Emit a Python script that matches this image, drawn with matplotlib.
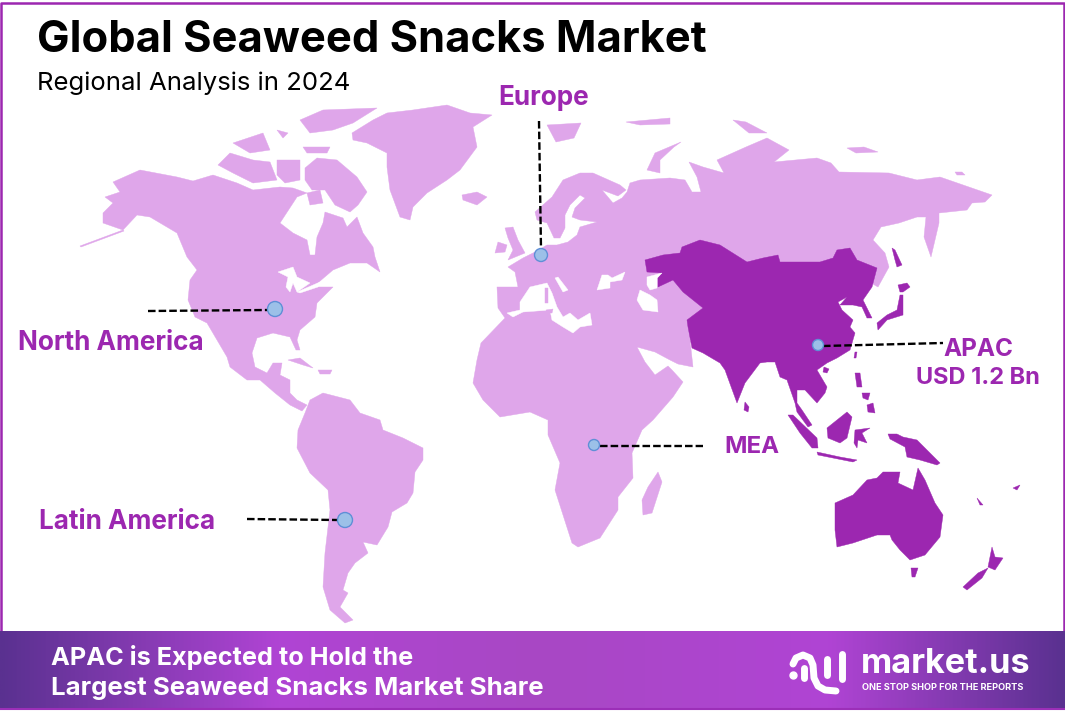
import numpy as np
import matplotlib.pyplot as plt
from matplotlib.colors import LinearSegmentedColormap

plt.rcParams['font.family'] = ['Inter', 'DejaVu Sans']

TITLE = 'Global Seaweed Snacks Market'
SUBTITLE = 'Regional Analysis in 2024'
BANNER1 = 'APAC is Expected to Hold the'
BANNER2 = 'Largest Seaweed Snacks Market Share'

# outlines, pixel coords
north_america = [(113,182),(140,170),(177,177),(193,181),(213,175),(237,183),(253,190),(280,187),(293,188),(307,193),
    (297,197),(280,223),(293,233),(307,240),(310,255),(315,255),(317,237),(323,223),(325,212),(343,218),(347,227),(357,217),
    (363,233),(373,247),(375,257),(380,272),(367,263),(350,263),(333,270),(313,287),(333,287),(317,303),(315,317),(300,330),
    (297,340),(300,350),(296,350),(290,337),(273,333),(257,338),(252,353),(255,367),(267,373),(273,363),(282,363),(280,375),
    (290,380),(290,393),(297,400),(307,405),(302,411),(290,405),(275,393),(260,380),(247,380),(230,367),(227,357),(207,323),(195,317),
    (188,300),(190,280),(197,270),(187,257),(177,233),(150,217),(137,215),(123,230),(103,223),(103,213),(113,203),(105,197),(120,192)]
south_america = [(305,413),(310,400),(323,393),(350,400),(360,413),(380,420),(383,430),(403,438),(423,448),(423,460),(415,472),
    (413,493),(407,503),(392,512),(388,527),(377,545),(363,542),(368,553),(355,563),(348,573),(343,590),(348,593),(340,607),
    (353,620),(345,623),(330,610),(323,587),(325,553),(330,510),(328,490),(310,473),(297,448),(298,430)]
eurafrica = [(497,287),(518,287),(515,272),(508,267),(523,258),(535,252),(547,245),(557,245),(568,242),(577,235),(580,227),(597,222),
    (580,220),(572,217),(575,208),(585,198),(580,195),(570,205),(565,215),(565,228),(560,238),(554,238),(547,223),(537,220),
    (535,212),(552,197),(563,180),(580,173),(593,173),(620,185),(626,190),(618,196),(602,190),(613,203),(622,198),(627,192),
    (630,183),(640,180),(670,178),(685,180),
    (692,192),(701,192),(697,177),(689,162),(703,167),(724,173),(717,160),(746,147),(767,138),(789,150),(774,162),(817,158),
    (831,163),(839,172),(889,173),(917,180),(940,177),(992,195),(985,202),(972,203),(967,210),(939,213),(939,223),(931,257),
    (924,237),(926,217),(917,217),(899,223),(881,227),(873,240),(885,253),(889,267),(878,287),(871,283),(760,300),(690,340),
    (693,367),(678,364),(670,360),(655,352),(637,347),(645,362),(655,375),(668,366),(672,370),(683,382),(673,397),(653,420),
    (642,430),(632,453),(633,478),(618,497),(618,510),(600,538),(578,547),(572,543),(555,490),(560,463),(548,435),(548,420),
    (530,412),(500,417),(483,400),(473,383),(477,360),(481,343),(505,318),(498,308)]
light_islands = [
    [(352,133),(373,120),(387,113),(413,110),(447,105),(470,113),(492,115),(473,127),(477,147),(460,170),(447,180),(427,193),
     (413,207),(410,220),(400,217),(390,190),(387,167),(387,153),(367,143),(353,140)],
    [(305,168),(317,158),(337,160),(357,177),(367,192),(358,205),(350,212),(335,205),(325,190),(312,190),(305,180)],
    [(307,193),(320,190),(323,203),(310,205)],
    [(218,165),(230,153),(253,160),(270,162),(277,180),(253,183),(233,173)],
    [(277,160),(300,160),(300,180),(285,183),(277,175)],
    [(300,120),(323,110),(377,108),(353,123),(333,130),(310,133)],
    [(303,147),(330,147),(327,153),(307,153)],
    [(233,143),(263,133),(270,150),(250,153)],
    [(277,130),(288,133),(283,138)],
    [(462,195),(477,192),(487,197),(477,205),(463,200)],
    [(288,360),(300,358),(313,368),(303,365)],
    [(318,370),(332,370),(330,374),(320,374)],
    [(505,228),(513,227),(518,240),(525,253),(508,260),(513,250),(508,238)],
    [(495,253),(498,242),(507,245),(505,252)],
    [(547,125),(581,123),(574,138),(556,142)],
    [(647,170),(655,153),(681,142),(674,147),(660,160),(660,173)],
    [(626,122),(670,118),(670,124),(640,125)],
    [(733,120),(746,122),(767,133),(749,133)],
    [(847,148),(864,147),(878,152),(856,153)],
    [(955,172),(962,172),(965,175),(957,175)],
    [(658,472),(662,482),(652,513),(643,515),(642,500),(648,487)],
    [(80,246),(123,230),(124,231),(81,247)],
]
# seas drawn white over the light land
light_holes = [
    [(507,313),(520,310),(520,302),(530,287),(547,283),(552,293),(557,307),(563,317),(570,313),(578,320),(590,313),(592,325),
     (580,327),(573,333),(563,327),(552,320),(550,310),(523,312),(513,317)],
    [(555,278),(558,277),(568,290),(563,292)],
    [(597,290),(602,275),(608,275),(612,278),(625,272),(622,280),(610,282),(610,288)],
    [(637,300),(640,290),(650,295),(657,300),(658,312),(643,310)],
    [(278,272),(293,267),(297,277),(310,283),(297,292),(293,283),(290,292),(286,287),(288,277)],
    [(297,292),(320,282),(318,287),(300,293)],
]
# islands that sit inside the seas above
sea_islands = [
    [(545,288),(548,288),(548,303),(545,303)],
    [(546,310),(553,309),(552,313),(547,313)],
]
apac_main = [(645,260),(663,255),(680,253),(682,247),(700,240),(720,245),(747,262),(763,258),(778,255),(780,262),(803,262),(820,262),
    (833,258),(837,250),(850,248),(857,260),(877,268),(872,287),(863,300),(872,318),(867,318),(862,307),(853,305),(840,305),
    (847,297),(838,302),(842,310),(853,320),(850,327),(855,333),(850,350),(837,358),(827,363),(817,370),(827,387),(825,393),
    (817,403),(805,390),(797,390),(797,403),(802,410),(812,425),(808,427),(797,412),(795,403),(787,380),(780,377),(775,362),(767,362),(760,363),
    (745,383),(737,403),(725,370),(720,363),(703,353),(692,348),(688,327),(687,320),(703,308),(683,292),(673,280),(658,287),
    (658,278),(662,273),(647,272)]
apac_islands = [
    [(745,402),(749,407),(748,412),(744,410)],
    [(855,352),(857,352),(856,358),(854,358)],
    [(824,367),(829,369),(827,373),(823,372)],
    [(877,323),(887,315),(897,310),(900,295),(903,295),(903,315),(887,320),(878,330)],
    [(898,285),(907,283),(910,287),(903,292),(900,292)],
    [(892,248),(895,250),(902,265),(897,267),(895,260)],
    [(855,373),(860,373),(862,387),(857,387)],
    [(867,405),(873,403),(875,413),(868,412)],
    [(862,393),(870,393),(868,400),(863,398)],
    [(827,428),(847,412),(852,417),(847,438),(840,443),(828,438)],
    [(788,415),(793,415),(817,438),(818,448),(812,448),(800,433)],
    [(817,452),(840,457),(857,460),(853,462),(833,458),(818,455)],
    [(855,430),(870,428),(862,433),(867,443),(858,440),(857,448),(854,443)],
    [(888,434),(897,434),(903,437),(917,440),(930,453),(940,463),(937,465),(920,460),(907,457),(905,447),(890,439)],
    [(835,503),(853,495),(867,480),(877,478),(883,472),(900,472),(898,483),(913,490),(918,468),(925,480),(935,503),(943,515),
     (940,537),(925,555),(910,560),(900,550),(892,540),(890,535),(877,535),(853,543),(837,547),(835,530)],
    [(911,568),(918,568),(915,577),(912,577)],
    [(992,547),(995,557),(1003,558),(995,570),(988,567)],
    [(988,568),(982,578),(967,590),(963,587),(978,573)],
    [(977,498),(983,505),(980,505)],
    [(1013,488),(1020,485),(1017,490)],
]
caspian_north = [(647,277),(662,273),(657,278),(657,288),(650,290),(647,285)]

region_dots = {'North America': (275,309,7.5), 'Europe': (541,255,6.5), 'APAC': (818,345,5.5), 'MEA': (594,445,5.5), 'Latin America': (345,520,7.5)}
leaders = [((148,311),(268,310)), ((539,121),(541,249)), ((823,346),(943,343)), ((600,446),(703,446)), ((247,519),(338,520))]
region_labels = [('Europe',544,98,18.8), ('North America',111,343,18.8), ('APAC',978,349,17.5), ('USD 1.2 Bn',978,378,17), ('MEA',752,447,17.3), ('Latin America',127,522,18.8)]

logo_arch = [(793,664),(796,658),(803,655),(810,658),(813,665),(814,678),(818,686),(825,690),(836,691)]
logo_bars = [((804,668),(804,678)), ((827,659),(827,675)), ((842,654),(842,679))]
logo_dot = (793,675)

PURPLE = '#9c27b0'
LIGHT = '#dfa6ea'

fig = plt.figure(figsize=(10.65,7.14), dpi=100)
ax = fig.add_axes([0,0,1,1])
ax.set_xlim(0,1065)
ax.set_ylim(714,0)
ax.axis('off')

def fillall(polys,color,z):
    for p in polys:
        a = np.array(p)
        ax.fill(a[:,0],a[:,1],color=color,lw=0.3,zorder=z)

fillall([north_america,south_america,eurafrica]+light_islands,LIGHT,2)
fillall(light_holes,'white',3)
fillall(sea_islands,LIGHT,3.5)
fillall([apac_main]+apac_islands,PURPLE,4)
fillall([caspian_north],'white',5)

for a,b in leaders:
    ax.plot([a[0],b[0]],[a[1],b[1]],color='black',lw=1.7,ls=(0,(3.2,1.3)),zorder=6)
for k in region_dots:
    x,y,r = region_dots[k]
    ax.add_patch(plt.Circle((x,y),r,fc='#9cc0e8',ec='#5f8fd6',lw=1,zorder=7))

ax.text(37,41,TITLE,fontsize=31.3,fontweight='bold',color='black',va='center',zorder=9)
ax.text(37,83,SUBTITLE,fontsize=18.5,color='black',va='center',zorder=9)
for t,x,y,s in region_labels:
    ax.text(x,y,t,fontsize=s,fontweight='bold',color=PURPLE,ha='center',va='center',zorder=9)

# frame
ax.plot([1,1,1064,1064],[632,3,3,632],color=PURPLE,lw=1.8,zorder=8)

# banner gradient
cm = LinearSegmentedColormap.from_list('banner',[(0,'#5a3190'),(0.26,'#b044d4'),(0.5,'#a848c4'),(0.78,'#b044d4'),(1,'#5a3190')])
ax.imshow(np.linspace(0,1,512).reshape(1,-1),cmap=cm,extent=[0,1065,709,631],aspect='auto',zorder=8)
ax.set_xlim(0,1065)
ax.set_ylim(714,0)
ax.plot([0,1065],[709,709],color='#9c2fb8',lw=1.5,zorder=9)

ax.text(51,658,BANNER1,fontsize=18.2,fontweight='bold',color='white',va='center',zorder=10)
ax.text(51,688,BANNER2,fontsize=18.6,fontweight='bold',color='white',va='center',zorder=10)

# logo
arch = np.array(logo_arch)
ax.plot(arch[:,0],arch[:,1],color='white',lw=5,solid_capstyle='round',solid_joinstyle='round',zorder=10)
for a,b in logo_bars:
    ax.plot([a[0],b[0]],[a[1],b[1]],color='white',lw=5,solid_capstyle='round',zorder=10)
ax.plot([logo_dot[0]],[logo_dot[1]],color='white',marker='o',ms=5,zorder=10)
ax.text(861,664,'market.us',fontsize=24.6,fontweight='bold',color='white',va='center',zorder=10)
ax.text(862,687,'ONE STOP SHOP FOR THE REPORTS',fontsize=6.6,fontweight='bold',color='white',va='center',zorder=10)

fig.savefig('out.png',dpi=100)
